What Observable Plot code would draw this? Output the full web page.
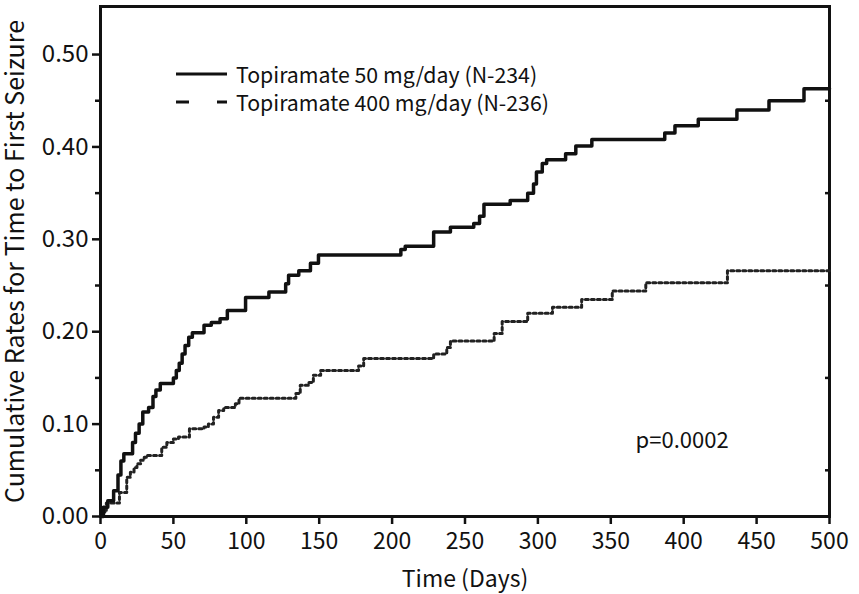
<!DOCTYPE html>
<html>
<head>
<meta charset="utf-8">
<script src="https://cdn.jsdelivr.net/npm/d3@7"></script>
<script src="https://cdn.jsdelivr.net/npm/@observablehq/plot@0.6"></script>
<style>
  body { margin: 0; background: #fff; }
  #wrap { position: relative; width: 859px; height: 594px; font-family: "Noto Sans CJK JP", "Noto Sans", sans-serif; color: #111; }
  #legend { position: absolute; left: 176px; top: 60px; font-size: 21.3px; }
  #legend .row { display: flex; align-items: center; white-space: nowrap; height: 28px; }
  #legend svg { margin-right: 9px; }
  #legend span { display: inline-block; height: 26px; line-height: 26px; overflow: visible; }
</style>
</head>
<body>
<div id="wrap"></div>
<script>
// Topiramate 50 mg/day (N-234): step changes (day, cumulative rate)
const days50 = [0, 2, 5, 9, 12, 14, 16, 22, 24, 26.5, 29, 33, 36, 38, 41, 50, 52, 54, 56, 58, 60.5, 63, 71, 76, 82, 87, 99.5, 115.5, 127, 129, 136, 144, 149.5, 206, 209, 228.5, 240, 256, 260, 263, 281, 293, 297, 299, 303, 306, 319, 326, 337, 387, 394, 410, 436.5, 458.5, 482.5, 500];
const rate50 = [0, 0.01, 0.017, 0.028, 0.045, 0.06, 0.068, 0.08, 0.09, 0.10, 0.113, 0.118, 0.13, 0.137, 0.144, 0.15, 0.158, 0.166, 0.176, 0.185, 0.194, 0.199, 0.207, 0.21, 0.214, 0.223, 0.237, 0.243, 0.252, 0.261, 0.266, 0.274, 0.283, 0.289, 0.2925, 0.308, 0.313, 0.317, 0.325, 0.338, 0.342, 0.35, 0.36, 0.373, 0.382, 0.386, 0.3925, 0.401, 0.408, 0.415, 0.423, 0.43, 0.44, 0.45, 0.463, 0.463];

// Topiramate 400 mg/day (N-236)
const days400 = [0, 2, 4, 13, 18, 20.5, 23, 25, 27.5, 30, 32, 42, 45.5, 50, 53.5, 61, 71, 74, 77.5, 81, 84.5, 92.5, 95, 134, 137, 143, 146, 151, 177, 180.5, 228.5, 237.5, 240, 270, 275.5, 293, 310, 330, 351, 374, 430, 500];
const rate400 = [0, 0.005, 0.0145, 0.026, 0.0425, 0.048, 0.053, 0.057, 0.061, 0.064, 0.066, 0.075, 0.08, 0.084, 0.086, 0.095, 0.097, 0.10, 0.1075, 0.1147, 0.118, 0.122, 0.128, 0.133, 0.142, 0.145, 0.153, 0.158, 0.163, 0.171, 0.176, 0.183, 0.19, 0.198, 0.211, 0.22, 0.2265, 0.235, 0.244, 0.253, 0.266, 0.266];

const seriesNames = ["Topiramate 50 mg/day (N-234)", "Topiramate 400 mg/day (N-236)"];
const xTicks = [0, 50, 100, 150, 200, 250, 300, 350, 400, 450, 500];
const yMajor = [0, 0.1, 0.2, 0.3, 0.4, 0.5];
const yMinor = [0.05, 0.15, 0.25, 0.35, 0.45];
const annotations = [{label: "p=0.0002", day: 367, rate: 0.082}];

const s50 = days50.map((d, i) => ({day: d, rate: rate50[i]}));
const s400 = days400.map((d, i) => ({day: d, rate: rate400[i]}));

const chart = Plot.plot({
  width: 859,
  height: 594,
  marginLeft: 100,
  marginRight: 30,
  marginTop: 6,
  marginBottom: 78,
  style: {fontFamily: '"Noto Sans CJK JP", "Noto Sans", sans-serif', fontSize: "23px", color: "#111", background: "#fff"},
  x: {domain: [0, 500]},
  y: {domain: [0, 0.552]},
  marks: [
    Plot.axisX({ticks: xTicks, tickSize: 8, tickPadding: 8, strokeWidth: 2.5, tickFormat: d => String(d),
      label: "Time (Days)", labelAnchor: "center", labelArrow: "none", labelOffset: 70}),
    Plot.axisY({ticks: yMajor, tickSize: 8, tickPadding: 4, strokeWidth: 2.5, tickFormat: d3.format(".2f"),
      label: null, fontSize: 24}),
    Plot.axisY({ticks: yMajor, tickSize: 0, tickFormat: () => "", fontSize: 25,
      label: "Cumulative Rates for Time to First Seizure", labelAnchor: "center", labelArrow: "none", labelOffset: 94}),
    Plot.axisY({ticks: yMinor, tickSize: 5, strokeWidth: 2.5, tickFormat: () => "", label: null}),
    Plot.axisY({anchor: "right", ticks: yMinor, tickSize: -5, strokeWidth: 2.5, tickFormat: () => "", label: null}),
    Plot.frame({strokeWidth: 3, stroke: "#111"}),
    Plot.line(s400, {x: "day", y: "rate", curve: "step-after", stroke: "#222", strokeWidth: 3, strokeDasharray: "3,3"}),
    Plot.line(s50, {x: "day", y: "rate", curve: "step-after", stroke: "#111", strokeWidth: 3.5}),
    Plot.text(annotations, {x: "day", y: "rate", text: "label", textAnchor: "start", fontSize: 22, fill: "#111"})
  ]
});

const wrap = document.getElementById("wrap");
wrap.appendChild(chart);

const legend = document.createElement("div");
legend.id = "legend";
const dashes = [null, "13,28"];
seriesNames.forEach((name, i) => {
  const row = document.createElement("div");
  row.className = "row";
  const ns = "http://www.w3.org/2000/svg";
  const svg = document.createElementNS(ns, "svg");
  svg.setAttribute("width", "51");
  svg.setAttribute("height", "14");
  const ln = document.createElementNS(ns, "line");
  ln.setAttribute("x1", "0"); ln.setAttribute("x2", "51");
  ln.setAttribute("y1", "7"); ln.setAttribute("y2", "7");
  ln.setAttribute("stroke", "#111"); ln.setAttribute("stroke-width", "3");
  if (dashes[i]) ln.setAttribute("stroke-dasharray", dashes[i]);
  svg.appendChild(ln);
  row.appendChild(svg);
  const t = document.createElement("span");
  t.textContent = name;
  row.appendChild(t);
  legend.appendChild(row);
});
wrap.appendChild(legend);
</script>
</body>
</html>
